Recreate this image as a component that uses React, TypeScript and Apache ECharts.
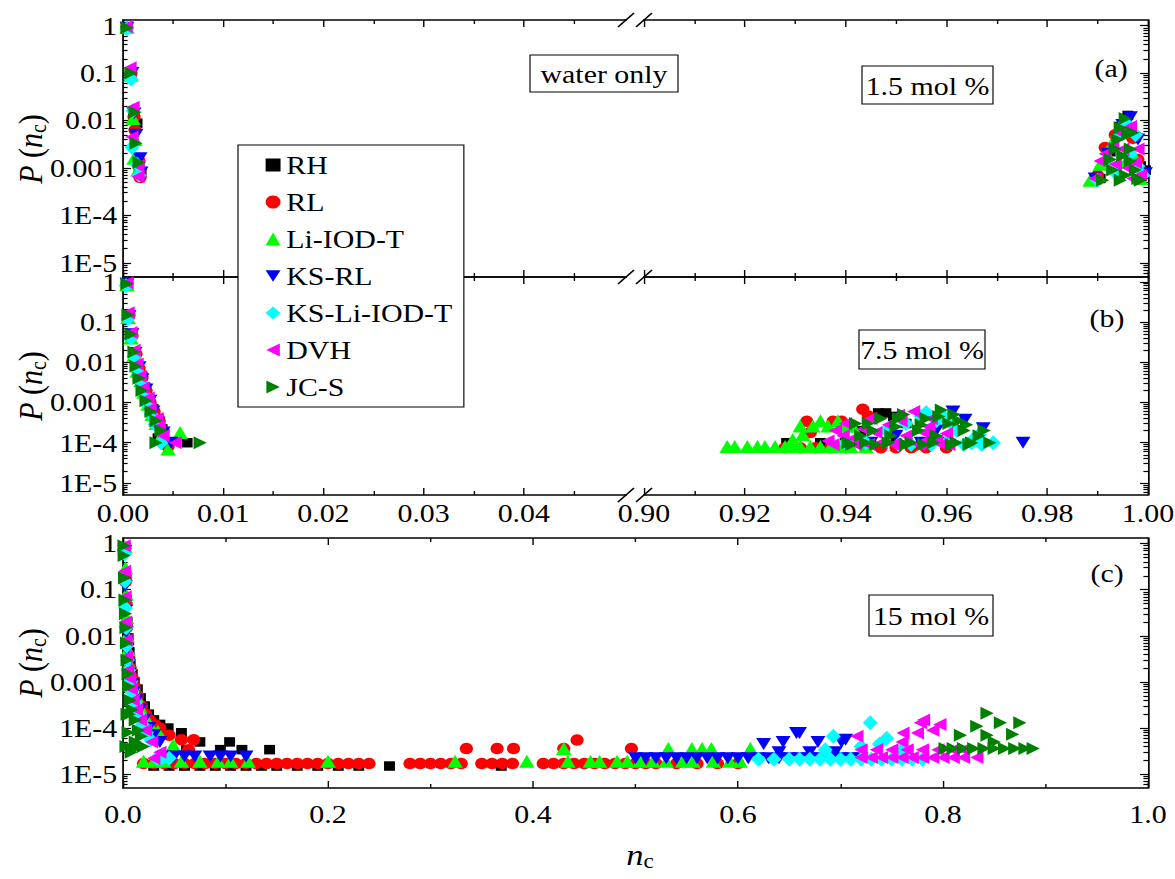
import React, { useEffect, useRef } from 'react';
import * as echarts from 'echarts';

// ---------------- layout helpers (reference is horizontally stretched ~1.15x) ----------------
const S = 1.15;
const W = 1022;
const H = 879;
const X = (px: number) => px / S;
const Y = (py: number) => py;
const FONT = "'Liberation Serif', 'Times New Roman', serif";

// ---------------- series meta ----------------
const NAMES = ['RH', 'RL', 'Li-IOD-T', 'KS-RL', 'KS-Li-IOD-T', 'DVH', 'JC-S'];
const COLORS = ['#000000', '#ff0000', '#00ff00', '#0000ff', '#00ffff', '#ff00ff', '#008000'];
const SYMBOLS = ['rect', 'circle', 'triangle', 'path://M0,0L10,0L5,9Z', 'diamond', 'path://M9,0L9,10L0,5Z', 'path://M0,0L9,5L0,10Z'];
const SIZES = [[9.5, 9.5], [11.5, 11.5], [13.5, 13], [13, 12], [13, 15], [11.5, 13], [11.5, 13]];

// ---------------- axis ticks ----------------
const LOG_MIN = -5.3;
const LOG_MAX = 0.12;
const Y_MAJOR = [-5, -4, -3, -2, -1, 0];
const Y_LABELS: Record<string, string> = { '0': '1', '-1': '0.1', '-2': '0.01', '-3': '0.001', '-4': '1E-4', '-5': '1E-5' };
const XL_MAJOR = [0, 0.01, 0.02, 0.03, 0.04];
const XL_MINOR = [0.005, 0.015, 0.025, 0.035, 0.045];
const XR_MAJOR = [0.9, 0.92, 0.94, 0.96, 0.98, 1.0];
const XR_MINOR = [0.91, 0.93, 0.95, 0.97, 0.99];
const XC_MAJOR = [0, 0.2, 0.4, 0.6, 0.8, 1.0];
const XC_MINOR = [0.1, 0.3, 0.5, 0.7, 0.9];

// ---------------- data: [n_c, P(n_c)] ----------------
// (a) water only 1.5 mol %, left part
const aL_RH = [[0.0004, 0.9], [0.0008, 0.1], [0.0011, 0.013], [0.0014, 0.0088], [0.0016, 0.001], [0.0018, 0.0008]];
const aL_RL = [[0.0004, 0.9], [0.0008, 0.1], [0.0011, 0.012], [0.0012, 0.0063], [0.0016, 0.0014], [0.0017, 0.00063]];
const aL_LI = [[0.0004, 0.93], [0.0008, 0.09], [0.001, 0.011], [0.0012, 0.004], [0.0011, 0.0016], [0.0015, 0.0009]];
const aL_KSRL = [[0.0004, 0.9], [0.0009, 0.1], [0.0011, 0.014], [0.0013, 0.005], [0.0017, 0.0016], [0.0018, 0.0008]];
const aL_KSLI = [[0.0004, 0.86], [0.0008, 0.075], [0.001, 0.016], [0.0009, 0.0027], [0.0014, 0.0012], [0.0016, 0.0007]];
const aL_DVH = [[0.0003, 0.95], [0.0007, 0.13], [0.001, 0.019], [0.0009, 0.0045], [0.0015, 0.0011], [0.0015, 0.00065]];
const aL_JCS = [[0.0004, 0.9], [0.0008, 0.1], [0.0012, 0.015], [0.0013, 0.0033], [0.0016, 0.0013]];
// (a) right part
const aR_RH = [[0.9905, 0.0006], [0.9925, 0.0022], [0.9945, 0.0075], [0.996, 0.0128], [0.9975, 0.0045], [0.9985, 0.0011], [0.9995, 0.0009]];
const aR_RL = [[0.99, 0.0007], [0.9915, 0.0027], [0.9935, 0.005], [0.9955, 0.008], [0.997, 0.0042], [0.998, 0.0015]];
const aR_LI = [[0.9885, 0.00055], [0.9905, 0.0012], [0.993, 0.0035], [0.995, 0.006], [0.9955, 0.0013], [0.997, 0.002], [0.9985, 0.0006]];
const aR_KSRL = [[0.9895, 0.0006], [0.992, 0.002], [0.995, 0.008], [0.9965, 0.0117], [0.998, 0.004], [0.9995, 0.00077]];
const aR_KSLI = [[0.99, 0.00055], [0.992, 0.0015], [0.994, 0.0045], [0.9955, 0.009], [0.9975, 0.005], [0.999, 0.0007], [0.9935, 0.0008], [0.9965, 0.002], [0.998, 0.0011]];
const aR_DVH = [[0.9895, 0.0006], [0.9905, 0.0014], [0.9915, 0.002], [0.993, 0.003], [0.9945, 0.0055], [0.9965, 0.0075], [0.998, 0.0025], [0.9985, 0.0007], [0.9935, 0.0012], [0.995, 0.0025], [0.996, 0.001], [0.9975, 0.0013], [0.997, 0.0006]];
const aR_JCS = [[0.991, 0.00055], [0.9925, 0.0015], [0.994, 0.004], [0.9955, 0.011], [0.9965, 0.0025], [0.9975, 0.0009], [0.9985, 0.00055], [0.9935, 0.0025], [0.9945, 0.007], [0.995, 0.0018], [0.996, 0.005], [0.9955, 0.0007], [0.997, 0.0055], [0.9965, 0.0014], [0.998, 0.0006], [0.9945, 0.00055], [0.993, 0.0009]];
// (b) 7.5 mol %, left part
const bL_RH = [[0.0004, 0.9], [0.0006, 0.16], [0.0009, 0.05], [0.0012, 0.018], [0.0015, 0.008], [0.0019, 0.0045], [0.0022, 0.0024], [0.0026, 0.0012], [0.003, 0.0007], [0.0035, 0.0004], [0.0039, 0.00022], [0.0035, 0.00013], [0.0064, 0.0001]];
const bL_RL = [[0.0004, 0.92], [0.0006, 0.15], [0.0009, 0.045], [0.0013, 0.016], [0.0016, 0.007], [0.0019, 0.0042], [0.0023, 0.002], [0.0027, 0.001], [0.0031, 0.0006], [0.0036, 0.00035], [0.004, 0.0002], [0.0045, 0.00008]];
const bL_LI = [[0.0004, 0.85], [0.0005, 0.13], [0.0008, 0.04], [0.0011, 0.015], [0.0014, 0.006], [0.0018, 0.0035], [0.0021, 0.0018], [0.0025, 0.0009], [0.0029, 0.0005], [0.0033, 0.0003], [0.0038, 0.00015], [0.0045, 0.00007], [0.0057, 0.00018]];
const bL_KSRL = [[0.0004, 0.9], [0.0006, 0.14], [0.0009, 0.05], [0.0012, 0.017], [0.0016, 0.0075], [0.0019, 0.0038], [0.0023, 0.0021], [0.0027, 0.0011], [0.003, 0.0006], [0.0035, 0.00032], [0.004, 0.00018], [0.0048, 0.0001]];
const bL_KSLI = [[0.0003, 0.8], [0.0005, 0.12], [0.0008, 0.04], [0.0011, 0.014], [0.0014, 0.006], [0.0018, 0.003], [0.0021, 0.0016], [0.0024, 0.0009], [0.0028, 0.0005], [0.0032, 0.00028], [0.0038, 0.0001]];
const bL_DVH = [[0.0004, 0.95], [0.0005, 0.17], [0.0008, 0.055], [0.0011, 0.02], [0.0014, 0.009], [0.0017, 0.0045], [0.002, 0.0023], [0.0025, 0.0013], [0.0027, 0.0007], [0.0034, 0.0004], [0.0036, 0.00025], [0.004, 0.00015], [0.0052, 0.0001]];
const bL_JCS = [[0.0004, 0.9], [0.0005, 0.15], [0.0008, 0.05], [0.0011, 0.018], [0.0013, 0.008], [0.0016, 0.004], [0.0019, 0.002], [0.0023, 0.0011], [0.0028, 0.0006], [0.0033, 0.00035], [0.0038, 0.0002], [0.0033, 0.0001], [0.0077, 0.0001]];
// (b) right part
const bR_RH = [[0.9283, 0.0001], [0.935, 0.0001], [0.94, 0.0001], [0.943, 0.0002], [0.945, 0.0001], [0.9465, 0.00055], [0.948, 0.00055], [0.9495, 0.00045], [0.95, 0.0001], [0.952, 0.0003], [0.955, 0.0001], [0.96, 0.0001]];
const bR_RL = [[0.928, 0.000075], [0.931, 0.000075], [0.9323, 0.00034], [0.933, 0.00018], [0.934, 0.000075], [0.937, 0.000075], [0.9375, 0.00034], [0.9392, 0.00034], [0.94, 0.000075], [0.9434, 0.00068], [0.9445, 0.00046], [0.944, 0.000075], [0.947, 0.000075], [0.95, 0.000075], [0.953, 0.000075], [0.956, 0.000075], [0.96, 0.000075]];
const bR_LI = [[0.9165, 0.00008], [0.918, 0.00008], [0.9205, 0.00008], [0.9225, 0.00008], [0.924, 0.00008], [0.926, 0.00008], [0.928, 0.00008], [0.9295, 0.00008], [0.931, 0.00008], [0.933, 0.00008], [0.935, 0.00008], [0.937, 0.00008], [0.939, 0.00008], [0.941, 0.00008], [0.944, 0.00008], [0.9295, 0.00012], [0.9315, 0.00016], [0.931, 0.00026], [0.9335, 0.00026], [0.935, 0.00035], [0.9365, 0.00026], [0.9385, 0.00035], [0.94, 0.00026], [0.9414, 0.00026]];
const bR_KSRL = [[0.945, 0.0001], [0.95, 0.00015], [0.955, 0.0001], [0.958, 0.0002], [0.96, 0.0001], [0.9613, 0.0006], [0.9637, 0.00037], [0.9673, 0.00023], [0.9752, 0.0001]];
const bR_KSLI = [[0.94, 0.0001], [0.944, 0.0001], [0.948, 0.0002], [0.952, 0.0003], [0.955, 0.00045], [0.956, 0.00056], [0.958, 0.00035], [0.96, 0.0001], [0.962, 0.0002], [0.965, 0.0001], [0.9655, 0.00013], [0.9693, 0.0001],
  [0.9505, 0.00009], [0.953, 0.00009], [0.957, 0.00009], [0.9595, 0.00045], [0.961, 0.0003], [0.9635, 0.00009], [0.9665, 0.00016], [0.967, 0.00009]];
const bR_DVH = [[0.9365, 0.00011], [0.938, 0.0002], [0.94, 0.0003], [0.9415, 0.00013], [0.9435, 0.00022], [0.945, 0.0004], [0.947, 0.0001], [0.9485, 0.00028], [0.9505, 0.00048], [0.952, 0.00015], [0.9535, 0.0006], [0.955, 0.0001], [0.9565, 0.00025], [0.958, 0.00011],
  [0.9375, 0.00009], [0.9395, 0.00015], [0.942, 0.00009], [0.9445, 0.00009], [0.946, 0.00018], [0.9495, 0.00009], [0.951, 0.00035], [0.9545, 0.00009], [0.9555, 0.00018], [0.957, 0.0004], [0.959, 0.00009], [0.96, 0.00017], [0.9605, 0.00009]];
const bR_JCS = [[0.9405, 0.0001], [0.942, 0.0003], [0.944, 0.0001], [0.9455, 0.0002], [0.947, 0.0004], [0.9485, 0.0001], [0.95, 0.00025], [0.9515, 0.0005], [0.953, 0.0001], [0.9545, 0.0002], [0.956, 0.0004], [0.9575, 0.0001], [0.959, 0.00065], [0.9605, 0.0003], [0.962, 0.0001], [0.9635, 0.0002], [0.965, 0.0001], [0.9665, 0.00015], [0.9686, 0.0001],
  [0.9412, 0.00009], [0.943, 0.00015], [0.9445, 0.0003], [0.946, 0.00009], [0.949, 0.00015], [0.9505, 0.0004], [0.952, 0.00009], [0.955, 0.00028], [0.9555, 0.00009], [0.958, 0.00015], [0.9585, 0.00045], [0.961, 0.00009], [0.9615, 0.0005], [0.9625, 0.00035], [0.964, 0.00028], [0.9645, 0.00009], [0.9675, 0.0002]];
// (c) 15 mol %
const c_RH = [[0.0025, 0.75], [0.003, 0.2], [0.0035, 0.06], [0.004, 0.02], [0.005, 0.009], [0.006, 0.0045], [0.007, 0.0025], [0.009, 0.0015], [0.011, 0.001], [0.014, 0.0007], [0.017, 0.00045], [0.021, 0.0003], [0.025, 0.0002], [0.03, 0.00015], [0.036, 0.00012], [0.044, 0.0001], [0.057, 0.000079], [0.075, 0.00005], [0.062, 0.000034], [0.095, 0.000034], [0.104, 0.00005], [0.116, 0.000034], [0.143, 0.000034],
  [0.03, 0.000015], [0.045, 0.000015], [0.06, 0.000015], [0.075, 0.000015], [0.09, 0.000015], [0.105, 0.000015], [0.12, 0.000015], [0.135, 0.000015], [0.15, 0.000015], [0.17, 0.000015], [0.19, 0.000015], [0.21, 0.000015], [0.23, 0.000015], [0.26, 0.000015], [0.369, 0.000015]];
const c_RL = [[0.002, 0.8], [0.0025, 0.15], [0.003, 0.05], [0.0035, 0.015], [0.0045, 0.007], [0.0055, 0.0035], [0.007, 0.002], [0.009, 0.0012], [0.011, 0.0008], [0.014, 0.0005], [0.018, 0.0003], [0.022, 0.0002], [0.026, 0.00015], [0.031, 0.00012], [0.036, 0.0001], [0.045, 0.00007], [0.057, 0.000056], [0.069, 0.000056], [0.064, 0.000034],
  [0.335, 0.000036], [0.365, 0.000036], [0.381, 0.000036], [0.43, 0.000036], [0.443, 0.000055], [0.496, 0.000036],
  [0.02, 0.000017], [0.03, 0.000017], [0.04, 0.000017], [0.05, 0.000017], [0.06, 0.000017], [0.07, 0.000017], [0.08, 0.000017], [0.09, 0.000017], [0.1, 0.000017], [0.11, 0.000017], [0.12, 0.000017], [0.13, 0.000017], [0.14, 0.000017], [0.15, 0.000017], [0.16, 0.000017], [0.17, 0.000017], [0.18, 0.000017], [0.19, 0.000017], [0.2, 0.000017], [0.21, 0.000017], [0.22, 0.000017], [0.23, 0.000017], [0.24, 0.000017], [0.28, 0.000017], [0.29, 0.000017], [0.3, 0.000017], [0.31, 0.000017], [0.32, 0.000017], [0.33, 0.000017], [0.35, 0.000017], [0.36, 0.000017], [0.37, 0.000017], [0.38, 0.000017], [0.41, 0.000017], [0.42, 0.000017], [0.43, 0.000017], [0.44, 0.000017], [0.45, 0.000017], [0.46, 0.000017], [0.47, 0.000017], [0.48, 0.000017], [0.49, 0.000017], [0.5, 0.000017], [0.51, 0.000017], [0.52, 0.000017], [0.54, 0.000017], [0.56, 0.000017], [0.58, 0.000017], [0.6, 0.000017]];
const c_LI = [[0.002, 0.85], [0.0025, 0.3], [0.003, 0.08], [0.0035, 0.025], [0.004, 0.01], [0.005, 0.005], [0.006, 0.0025], [0.008, 0.0014], [0.01, 0.0009], [0.013, 0.0005], [0.016, 0.0003], [0.02, 0.0002], [0.025, 0.00013], [0.034, 0.000085], [0.049, 0.000043],
  [0.43, 0.000036], [0.532, 0.000036], [0.555, 0.000036], [0.565, 0.000036], [0.574, 0.000036], [0.612, 0.000036],
  [0.02, 0.000019], [0.03, 0.000019], [0.04, 0.000019], [0.057, 0.000019], [0.075, 0.000019], [0.093, 0.000019], [0.105, 0.000019], [0.122, 0.000019], [0.2, 0.000019], [0.324, 0.000019], [0.394, 0.000019], [0.434, 0.000019], [0.456, 0.000019], [0.465, 0.000019], [0.482, 0.000019], [0.492, 0.000019], [0.504, 0.000019], [0.517, 0.000019], [0.53, 0.000019], [0.546, 0.000019], [0.556, 0.000019], [0.576, 0.000019], [0.592, 0.000019], [0.602, 0.000019]];
const c_KSRL = [[0.0018, 0.7], [0.0022, 0.12], [0.0027, 0.035], [0.0032, 0.012], [0.004, 0.005], [0.005, 0.0025], [0.006, 0.0015], [0.008, 0.0009], [0.01, 0.0006], [0.013, 0.0004], [0.016, 0.00025], [0.02, 0.00015], [0.025, 0.0001], [0.03, 0.00007], [0.036, 0.00005],
  [0.625, 0.000045], [0.644, 0.00005], [0.657, 0.000078], [0.66, 0.000078], [0.678, 0.00005], [0.701, 0.00005], [0.705, 0.000056],
  [0.04, 0.000024], [0.05, 0.000024], [0.06, 0.000024], [0.07, 0.000024], [0.085, 0.000024], [0.095, 0.000024], [0.105, 0.000024], [0.12, 0.000024], [0.5, 0.000022], [0.51, 0.000022], [0.52, 0.000022], [0.53, 0.000022], [0.54, 0.000022], [0.55, 0.000022], [0.56, 0.000022], [0.57, 0.000022], [0.58, 0.000022], [0.59, 0.000022], [0.6, 0.000022], [0.61, 0.000022], [0.62, 0.000022], [0.63, 0.000022], [0.64, 0.000022], [0.65, 0.000022], [0.66, 0.000022], [0.67, 0.000022], [0.68, 0.000022], [0.69, 0.000022], [0.7, 0.000022], [0.71, 0.000022], [0.72, 0.000022], [0.64, 0.00003], [0.67, 0.00003], [0.695, 0.00003]];
const c_KSLI = [[0.0015, 0.6], [0.002, 0.15], [0.0025, 0.04], [0.003, 0.015], [0.0035, 0.006], [0.0045, 0.003], [0.0055, 0.0018], [0.007, 0.001], [0.009, 0.0006], [0.012, 0.00035], [0.015, 0.0002], [0.019, 0.00012], [0.023, 0.00008], [0.027, 0.000056], [0.033, 0.000022], [0.038, 0.000022], [0.045, 0.000022],
  [0.685, 0.000034], [0.693, 0.000066], [0.72, 0.00004], [0.729, 0.00013], [0.738, 0.000045], [0.745, 0.00006], [0.76, 0.000034],
  [0.62, 0.000021], [0.635, 0.000021], [0.65, 0.000021], [0.66, 0.000021], [0.67, 0.000021], [0.68, 0.000021], [0.69, 0.000021], [0.7, 0.000021], [0.71, 0.000021], [0.72, 0.000021], [0.73, 0.000021], [0.74, 0.000021], [0.75, 0.000021], [0.76, 0.000021], [0.77, 0.000021], [0.78, 0.000021]];
const c_DVH = [[0.0012, 0.9], [0.0015, 0.25], [0.002, 0.07], [0.0025, 0.02], [0.003, 0.008], [0.0035, 0.0035], [0.0045, 0.0018], [0.0065, 0.0012], [0.008, 0.0007], [0.01, 0.0004], [0.013, 0.00025], [0.017, 0.00015], [0.022, 0.00009], [0.028, 0.00005], [0.036, 0.00003], [0.03, 0.000022],
  [0.716, 0.000066], [0.76, 0.00005], [0.761, 0.000078], [0.775, 0.000078], [0.778, 0.00013], [0.781, 0.00015], [0.79, 0.00009], [0.797, 0.00012],
  [0.72, 0.000034], [0.735, 0.000034], [0.75, 0.000034], [0.765, 0.000034], [0.78, 0.000034], [0.795, 0.000034], [0.81, 0.000034], [0.82, 0.000034],
  [0.72, 0.000023], [0.73, 0.000023], [0.74, 0.000023], [0.75, 0.000023], [0.76, 0.000023], [0.77, 0.000023], [0.78, 0.000023], [0.79, 0.000023], [0.8, 0.000023], [0.81, 0.000023], [0.82, 0.000023], [0.833, 0.000023]];
const c_JCS = [[0.001, 0.9], [0.0012, 0.55], [0.0016, 0.18], [0.002, 0.06], [0.0025, 0.03], [0.003, 0.015], [0.0035, 0.007], [0.004, 0.003], [0.005, 0.0015], [0.0055, 0.0008], [0.007, 0.0004], [0.009, 0.00025], [0.012, 0.00015], [0.015, 0.00009], [0.018, 0.000066], [0.015, 0.00004], [0.008, 0.00003], [0.012, 0.00005], [0.004, 0.0002], [0.005, 0.00008], [0.003, 0.00004], [0.01, 0.000035], [0.02, 0.00004], [0.006, 0.0002],
  [0.843, 0.00021], [0.833, 0.00011], [0.856, 0.00013], [0.875, 0.00013], [0.868, 0.000073], [0.843, 0.00007], [0.817, 0.00007], [0.85, 0.00005],
  [0.802, 0.000036], [0.81, 0.000036], [0.82, 0.000036], [0.83, 0.000036], [0.84, 0.000036], [0.85, 0.000036], [0.86, 0.000036], [0.87, 0.000036], [0.88, 0.000036], [0.888, 0.000036]];

const A_LEFT = [aL_RH, aL_RL, aL_LI, aL_KSRL, aL_KSLI, aL_DVH, aL_JCS];
const A_RIGHT = [aR_RH, aR_RL, aR_LI, aR_KSRL, aR_KSLI, aR_DVH, aR_JCS];
const B_LEFT = [bL_RH, bL_RL, bL_LI, bL_KSRL, bL_KSLI, bL_DVH, bL_JCS];
const B_RIGHT = [bR_RH, bR_RL, bR_LI, bR_KSRL, bR_KSLI, bR_DVH, bR_JCS];
const C_ALL = [c_RH, c_RL, c_LI, c_KSRL, c_KSLI, c_DVH, c_JCS];

function buildOption(): any {
  const AX = { color: '#000', width: 1.5 };
  const TK = { color: '#000', width: 1.2 };
  const lbl = { color: '#000', fontFamily: FONT, fontSize: 26, lineHeight: 18 };

  const grids = [
    { left: X(123), top: Y(20), width: X(624) - X(123), height: 257 },
    { left: X(644), top: Y(20), width: X(1148) - X(644), height: 257 },
    { left: X(123), top: Y(277), width: X(624) - X(123), height: 218 },
    { left: X(644), top: Y(277), width: X(1148) - X(644), height: 218 },
    { left: X(123), top: Y(538), width: X(1148) - X(123), height: 250 },
  ].map((g) => ({ ...g, containLabel: false, outerBoundsMode: 'none', show: false }));

  const xAxes: any[] = [];
  const yAxes: any[] = [];

  const addX = (gi: number, min: number, max: number, maj: number[], mnr: number[], labels: boolean, digits: number, margin: number) => {
    const base = { type: 'value', gridIndex: gi, min, max, splitLine: { show: false }, splitArea: { show: false } };
    const idx = xAxes.length;
    xAxes.push({ ...base, position: 'bottom', axisLine: { show: true, onZero: false, lineStyle: AX }, axisTick: { show: true, inside: true, length: 7, customValues: maj, lineStyle: TK }, axisLabel: { show: labels, customValues: maj, formatter: (v: number) => v.toFixed(digits), margin, ...lbl, lineHeight: 26 } });
    xAxes.push({ ...base, position: 'bottom', axisLine: { show: false, onZero: false }, axisTick: { show: true, inside: true, length: 4, customValues: mnr, lineStyle: TK }, axisLabel: { show: false } });
    xAxes.push({ ...base, position: 'top', axisLine: { show: true, onZero: false, lineStyle: AX }, axisTick: { show: true, inside: true, length: 7, customValues: maj, lineStyle: TK }, axisLabel: { show: false } });
    xAxes.push({ ...base, position: 'top', axisLine: { show: false, onZero: false }, axisTick: { show: true, inside: true, length: 4, customValues: mnr, lineStyle: TK }, axisLabel: { show: false } });
    return idx;
  };

  const yMinor: number[] = [];
  for (let n = -6; n <= 0; n++) {
    for (let k = 2; k <= 9; k++) {
      const v = n + Math.log10(k);
      if (v > LOG_MIN && v < LOG_MAX) yMinor.push(v);
    }
  }

  const addY = (gi: number, side: string, labels: boolean) => {
    const base = { type: 'value', gridIndex: gi, min: LOG_MIN, max: LOG_MAX, position: side, splitLine: { show: false }, splitArea: { show: false } };
    const idx = yAxes.length;
    yAxes.push({ ...base, axisLine: { show: true, onZero: false, lineStyle: AX }, axisTick: { show: true, inside: true, length: 7, customValues: Y_MAJOR, lineStyle: TK }, axisLabel: { show: labels, customValues: Y_MAJOR, formatter: (v: number) => Y_LABELS[String(Math.round(v))] || '', margin: 5, ...lbl } });
    yAxes.push({ ...base, axisLine: { show: false, onZero: false }, axisTick: { show: true, inside: true, length: 4, customValues: yMinor, lineStyle: TK }, axisLabel: { show: false } });
    return idx;
  };

  const xa = [
    addX(0, 0, 0.05, XL_MAJOR, XL_MINOR, false, 2, 4),
    addX(1, 0.9, 1.0, XR_MAJOR, XR_MINOR, false, 2, 4),
    addX(2, 0, 0.05, XL_MAJOR, XL_MINOR, true, 2, 5),
    addX(3, 0.9, 1.0, XR_MAJOR, XR_MINOR, true, 2, 5),
    addX(4, 0, 1.0, XC_MAJOR, XC_MINOR, true, 1, 13),
  ];
  const ya = [
    addY(0, 'left', true),
    addY(1, 'right', false),
    addY(2, 'left', true),
    addY(3, 'right', false),
    addY(4, 'left', true),
  ];
  addY(4, 'right', false);

  const parts = [A_LEFT, A_RIGHT, B_LEFT, B_RIGHT, C_ALL];
  const series: any[] = [];
  NAMES.forEach((name, i) => {
    parts.forEach((part, p) => {
      series.push({
        type: 'scatter',
        name,
        xAxisIndex: xa[p],
        yAxisIndex: ya[p],
        data: part[i].map(([x, v]) => [x, Math.log10(v)]),
        symbol: SYMBOLS[i],
        symbolSize: SIZES[i],
        symbolKeepAspect: false,
        itemStyle: { color: COLORS[i], opacity: 1, borderWidth: 0 },
        emphasis: { disabled: true },
        silent: true,
        z: 2,
      });
    });
  });

  const txt = (x: number, y: number, text: string, extra: any = {}) => ({
    type: 'text', x: X(x), y: Y(y), z: 100,
    style: { text, fontFamily: FONT, fontSize: 26, fill: '#000', align: 'center', verticalAlign: 'middle', textAlign: 'center', textVerticalAlign: 'middle', ...extra },
  });
  const box = (x1: number, y1: number, x2: number, y2: number, text: string) => [
    { type: 'rect', z: 99, shape: { x: X(x1), y: Y(y1), width: X(x2) - X(x1), height: y2 - y1 }, style: { fill: '#fff', stroke: '#000', lineWidth: 1 } },
    txt((x1 + x2) / 2, (y1 + y2) / 2 + 1, text),
  ];
  const rich = {
    i: { fontFamily: FONT, fontSize: 30, fontStyle: 'italic', lineHeight: 34 },
    s: { fontFamily: FONT, fontSize: 20, lineHeight: 34, verticalAlign: 'bottom' },
  };
  const yTitle = (cy: number) => ({
    type: 'text', x: X(30), y: Y(cy), rotation: Math.PI / 2, z: 100,
    style: { text: '{i|P} ({i|n}{s|c})', rich, fontFamily: FONT, fontSize: 30, lineHeight: 34, fill: '#000', align: 'center', verticalAlign: 'middle', textAlign: 'center', textVerticalAlign: 'middle' },
  });

  const breaks: any[] = [];
  [20, 277, 495].forEach((yy) => {
    breaks.push({ type: 'line', z: 100, shape: { x1: X(624), y1: Y(yy), x2: X(627), y2: Y(yy) }, style: { stroke: '#000', lineWidth: 1.5 } });
    [626, 644].forEach((cx) => {
      breaks.push({ type: 'line', z: 100, shape: { x1: X(cx - 8), y1: Y(yy + 7), x2: X(cx + 8), y2: Y(yy - 7) }, style: { stroke: '#000', lineWidth: 1.5 } });
    });
  });

  const graphics = [
    ...breaks,
    ...box(530, 55, 678, 92, 'water only'),
    ...box(862, 66, 993, 104, '1.5 mol %'),
    ...box(859, 330, 985, 369, '7.5 mol %'),
    ...box(869, 595, 993, 636, '15 mol %'),
    txt(1111, 68, '(a)'),
    txt(1107, 318, '(b)'),
    txt(1107, 573, '(c)'),
    yTitle(149),
    yTitle(386),
    yTitle(663),
    {
      type: 'text', x: X(640), y: Y(855), z: 100,
      style: { text: '{i|n}{s|c}', rich, fontFamily: FONT, fontSize: 30, lineHeight: 34, fill: '#000', align: 'center', verticalAlign: 'middle', textAlign: 'center', textVerticalAlign: 'middle' },
    },
  ];

  return {
    animation: false,
    backgroundColor: '#fff',
    grid: grids,
    xAxis: xAxes,
    yAxis: yAxes,
    legend: {
      data: NAMES,
      orient: 'vertical',
      left: X(238),
      top: Y(145),
      padding: [7, 10, 7, 24],
      itemGap: 11,
      itemWidth: 13,
      itemHeight: 13,
      selectedMode: false,
      backgroundColor: '#fff',
      borderColor: '#000',
      borderWidth: 1,
      borderRadius: 0,
      z: 50,
      textStyle: { color: '#000', fontFamily: FONT, fontSize: 26, lineHeight: 24 },
    },
    graphic: { elements: graphics },
    series,
  };
}

export default function App() {
  const ref = useRef<HTMLDivElement>(null);
  useEffect(() => {
    if (!ref.current) return;
    const chart = echarts.init(ref.current, null, { renderer: 'svg' });
    chart.setOption(buildOption());
    return () => chart.dispose();
  }, []);
  return (
    <div style={{ position: 'fixed', left: 0, top: 0, width: 1175, height: 879, overflow: 'hidden', background: '#fff' }}>
      <div ref={ref} style={{ width: W, height: H, transform: `scaleX(${S})`, transformOrigin: '0 0' }} />
    </div>
  );
}
